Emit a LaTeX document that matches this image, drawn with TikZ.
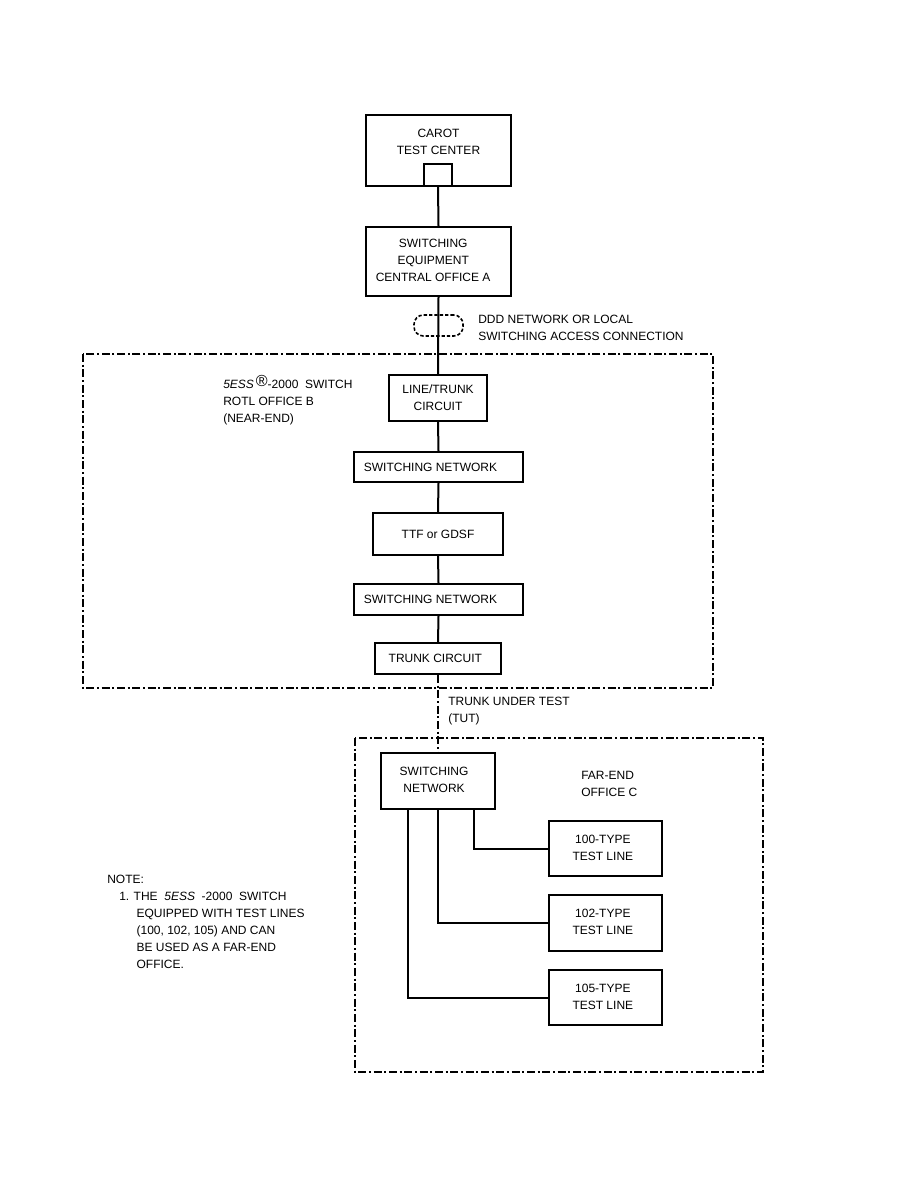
\documentclass[tikz,border=0pt]{standalone}
\usepackage{fontspec}
\setmainfont{Liberation Sans}
\begin{document}
\begin{tikzpicture}[x=0.75pt,y=-0.75pt,
  every node/.style={font=\fontsize{9}{12.75}\selectfont},
  box/.style={draw,line width=1.5pt,inner sep=0pt,align=center},
  wire/.style={line width=1.5pt},
  dashdot/.style={line width=1.5pt,dash pattern=on 6pt off 2pt on 1.5pt off 2pt},
  lbl/.style={anchor=west,align=left,inner sep=0pt}]
\useasboundingbox (0,0) rectangle (918,1188);
% boundaries
\draw[dashdot] (83,354) rectangle (713,688);
\draw[dashdot] (355,738) rectangle (763,1072);
% top boxes
\node[box,minimum width=108.75pt,minimum height=53.25pt] (carot) at (438.5,150.5) {\raisebox{22.5pt}{\begin{tabular}{c}CAROT\\TEST CENTER\end{tabular}}};
\node[box,minimum width=21pt,minimum height=16.5pt] (sq) at (438,175) {};
\node[box,minimum width=108.75pt,minimum height=51.75pt] (swe) at (438.5,261.5) {\hspace*{-8pt}\begin{tabular}{c}SWITCHING\\EQUIPMENT\\CENTRAL OFFICE A\end{tabular}};
\node[draw,line width=1.2pt,dash pattern=on 2.5pt off 1.5pt,rounded corners=7pt,minimum width=36.75pt,minimum height=15.75pt,inner sep=0pt] (oval) at (438.5,325.5) {};
\node[lbl] (ddd) at (478,327.5) {DDD NETWORK OR LOCAL\\SWITCHING ACCESS CONNECTION};
% near-end
\node[lbl] (sess) at (223,400) {\textit{5ESS}\,\raisebox{2pt}{\large ®}-2000\ \ SWITCH\\ROTL OFFICE B\\(NEAR-END)};
\node[box,minimum width=73.5pt,minimum height=34.5pt] (lt) at (438,398) {LINE/TRUNK\\CIRCUIT};
\node[box,minimum width=126.75pt,minimum height=22.5pt] (sn1) at (438.5,467) {\hspace*{-12pt}SWITCHING NETWORK};
\node[box,minimum width=97.5pt,minimum height=31.5pt] (ttf) at (438,534) {TTF or GDSF};
\node[box,minimum width=126.75pt,minimum height=23.25pt] (sn2) at (438.5,599.5) {\hspace*{-12pt}SWITCHING NETWORK};
\node[box,minimum width=94.5pt,minimum height=23.25pt] (tc) at (438,658.5) {\hspace*{-4pt}TRUNK CIRCUIT};
\node[lbl] (tut) at (448,711.5) {TRUNK UNDER TEST\\(TUT)};
% far-end
\node[box,minimum width=85.5pt,minimum height=42pt] (fsn) at (438,781) {\hspace*{-6pt}\begin{tabular}{c}SWITCHING\\NETWORK\end{tabular}};
\node[lbl] (far) at (581,783.5) {FAR-END\\OFFICE C};
\node[box,minimum width=84.75pt,minimum height=41.25pt] (t100) at (605.5,848.5) {\hspace*{-4pt}\begin{tabular}{c}100-TYPE\\TEST LINE\end{tabular}};
\node[box,minimum width=84.75pt,minimum height=42pt] (t102) at (605.5,923) {\hspace*{-4pt}\begin{tabular}{c}102-TYPE\\TEST LINE\end{tabular}};
\node[box,minimum width=84.75pt,minimum height=41.25pt] (t105) at (605.5,997.5) {\hspace*{-4pt}\begin{tabular}{c}105-TYPE\\TEST LINE\end{tabular}};
% note
\node[lbl,anchor=north west] (note) at (107,875) {NOTE:\\
\hspace*{9pt}1. THE\ \ \textit{5ESS}\ \ -2000\ \ SWITCH\\
\hspace*{22pt}EQUIPPED WITH TEST LINES\\
\hspace*{22pt}(100, 102, 105) AND CAN\\
\hspace*{22pt}BE USED AS A FAR-END\\
\hspace*{22pt}OFFICE.};
% connectors
\draw[wire] (sq.south) -- (swe.north);
\draw[wire] (swe.south) -- (lt.north);
\draw[wire] (lt.south) -- (sn1.north);
\draw[wire] (sn1.south) -- (ttf.north);
\draw[wire] (ttf.south) -- (sn2.north);
\draw[wire] (sn2.south) -- (tc.north);
\draw[dashdot] (tc.south) -- (fsn.north);
\draw[wire] ([xshift=27pt]fsn.south) |- (t100.west);
\draw[wire] (fsn.south) |- (t102.west);
\draw[wire] ([xshift=-22.5pt]fsn.south) |- (t105.west);
\end{tikzpicture}
\end{document}
